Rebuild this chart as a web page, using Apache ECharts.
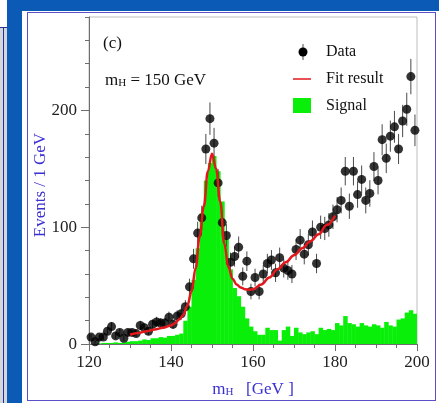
<!DOCTYPE html>
<html>
<head>
<meta charset="utf-8">
<script src="https://cdn.jsdelivr.net/npm/echarts@6/dist/echarts.min.js"></script>
<style>
  html, body { margin: 0; padding: 0; width: 439px; height: 403px; overflow: hidden; background: #0b5ab6; }
  #side { position: absolute; left: 0; top: 0; width: 7px; height: 27px; background: #fff; }
  #sideLow { position: absolute; left: 0; top: 27px; width: 7px; height: 376px; background: #d3d6dd; border-top: 1px solid #24348c; }
  #sideLine { position: absolute; left: 3px; top: 27px; width: 1px; height: 376px; background: #24348c; }
  #panel { position: absolute; left: 22px; top: 11px; width: 417px; height: 392px; background: #fff; }
  #frame { position: absolute; left: 27px; top: 12px; width: 407px; height: 387px; border: 1.5px solid #5b50c9; }
  #chart { position: absolute; left: 0; top: 0; width: 439px; height: 403px; }
</style>
</head>
<body>
<div id="side"></div>
<div id="sideLow"></div>
<div id="sideLine"></div>
<div id="panel"></div>
<div id="frame"></div>
<div id="chart"></div>
<script>
// Histogram binning: 1 GeV bins over the m_H window
const massMin = 120;
const massMax = 200;
const binWidth = 1;

// Observed events per 1 GeV bin (120-121, 121-122, ... 199-200)
const dataCounts = [
  6, 2, 6, 6, 11, 15, 7, 10, 5, 10,
  10, 9, 16, 14, 11, 17, 19, 18, 18, 23,
  17, 24, 26, 32, 49, 73, 95, 108, 167, 193,
  172, 138, 104, 93, 70, 75, 83, 58, 71, 45,
  57, 45, 60, 69, 72, 61, 74, 65, 63, 60,
  81, 89, 77, 85, 96, 69, 100, 99, 102, 109,
  115, 123, 148, 118, 148, 128, 141, 123, 129, 152,
  140, 175, 159, 178, 186, 167, 191, 201, 229, 183
];

// Expected signal per 1 GeV bin
const signalCounts = [
  0, 0, 0.5, 1, 1, 1, 1.5, 1, 1.5, 2,
  2.5, 2.5, 3, 4, 3.5, 5, 5, 6, 5.5, 7,
  7, 8, 9, 20, 32, 55, 82, 112, 140, 155,
  161, 148, 122, 90, 64, 48, 41, 32, 22, 15,
  11, 8, 8, 14, 12, 12, 3, 12, 15, 7,
  14, 10, 8.5, 10, 11, 8.5, 14, 12, 13, 12,
  18, 16, 24, 18, 17, 15, 18, 16, 15, 17,
  16, 14, 19, 16, 15, 21, 22, 27, 29, 26
];

// Fitted model, sampled along m_H
const fitMass  = [130, 132, 134, 136, 138, 140, 141, 142, 143, 144, 145, 146, 147, 148, 149, 150, 151, 152, 153, 154, 155, 156, 157, 158, 159, 160, 162, 164, 166, 168, 170, 172, 174, 176, 178, 180];
const fitValue = [8, 9.5, 11, 12.5, 14, 16, 18, 21, 25, 33, 45, 65, 92, 118, 148, 163, 150, 122, 86, 66, 56, 51, 48.5, 47, 46.5, 47, 51, 57, 64, 70, 76, 82, 88, 94, 102, 110];

// Axis ticks
const yMajorTicks = [0, 100, 200];
const yMax = 280;

const SERIF = '"Liberation Serif", "DejaVu Serif", serif';
const NAME_BLUE = '#3a2fd2';
const AXIS_GREY = '#6e6e6e';

const binLow = i => massMin + i * binWidth;
const dataPoints = dataCounts.map((n, i) => [binLow(i) + binWidth / 2, n]);
const signalBins = signalCounts.map((v, i) => [binLow(i), v]);
const fitPoints = fitMass.map((m, i) => [m, fitValue[i]]);

const chart = echarts.init(document.getElementById('chart'), null, { renderer: 'canvas' });

chart.setOption({
  animation: false,
  backgroundColor: 'transparent',
  grid: {
    left: 89, top: 17, width: 328, height: 331,
    show: true, borderColor: '#bdbdbd', borderWidth: 1, backgroundColor: 'transparent'
  },
  xAxis: [
    {
      type: 'value', min: massMin, max: massMax, interval: 20,
      axisLine: { lineStyle: { color: AXIS_GREY, width: 1 } },
      axisTick: { length: 7, lineStyle: { color: AXIS_GREY } },
      axisLabel: { fontFamily: SERIF, fontSize: 17, color: '#222', margin: 10 },
      splitLine: { show: false },
      name: '{n|m}{s|H}{n|   [GeV ]}',
      nameLocation: 'middle', nameGap: 29,
      nameTextStyle: {
        color: NAME_BLUE, fontFamily: SERIF,
        rich: {
          n: { fontFamily: SERIF, fontSize: 17, color: NAME_BLUE, lineHeight: 20, verticalAlign: 'bottom' },
          s: { fontFamily: SERIF, fontSize: 11, color: NAME_BLUE, lineHeight: 11, padding: [11, 0, 0, 0], verticalAlign: 'bottom' }
        }
      }
    },
    {
      type: 'value', min: massMin, max: massMax, interval: 5, position: 'bottom', offset: 0,
      axisLine: { show: false },
      axisTick: { length: 4, lineStyle: { color: AXIS_GREY } },
      axisLabel: { show: false },
      splitLine: { show: false }
    }
  ],
  yAxis: [
    {
      type: 'value', min: 0, max: yMax, interval: 20,
      axisLine: { show: true, lineStyle: { color: AXIS_GREY, width: 1 } },
      axisTick: { length: 8, customValues: yMajorTicks, lineStyle: { color: AXIS_GREY } },
      axisLabel: { customValues: yMajorTicks, fontFamily: SERIF, fontSize: 17, color: '#222', margin: 12 },
      splitLine: { show: false },
      name: 'Events / 1 GeV',
      nameLocation: 'middle', nameRotate: 90, nameGap: 40,
      nameMoveOverlap: false,
      nameTextStyle: { color: NAME_BLUE, fontFamily: SERIF, fontSize: 17, padding: [0, 9, 0, 0] }
    },
    {
      type: 'value', min: 0, max: yMax, interval: 20, position: 'left', offset: 0,
      axisLine: { show: false },
      axisTick: { length: 4, lineStyle: { color: AXIS_GREY } },
      axisLabel: { show: false },
      splitLine: { show: false }
    }
  ],
  series: [
    {
      name: 'Signal',
      type: 'custom',
      xAxisIndex: 0, yAxisIndex: 0,
      clip: true,
      z: 1,
      renderItem: (params, api) => {
        const lo = api.value(0);
        const v = api.value(1);
        const p0 = api.coord([lo, 0]);
        const p1 = api.coord([lo + binWidth, v]);
        return {
          type: 'rect',
          shape: { x: p0[0], y: p1[1], width: p1[0] - p0[0] + 0.4, height: p0[1] - p1[1] },
          style: { fill: '#0aef0a' }
        };
      },
      data: signalBins
    },
    {
      // Poisson uncertainty on each bin: +/- sqrt(N)
      name: 'DataErrors',
      type: 'custom',
      xAxisIndex: 0, yAxisIndex: 0,
      z: 3,
      renderItem: (params, api) => {
        const x = api.value(0);
        const n = api.value(1);
        const e = Math.sqrt(n);
        const a = api.coord([x, n + e]);
        const b = api.coord([x, Math.max(n - e, 0)]);
        return {
          type: 'line',
          shape: { x1: a[0], y1: a[1], x2: b[0], y2: b[1] },
          style: { stroke: '#4a4a4a', lineWidth: 1 }
        };
      },
      data: dataPoints
    },
    {
      name: 'Data',
      type: 'scatter',
      xAxisIndex: 0, yAxisIndex: 0,
      z: 4,
      symbol: 'circle', symbolSize: 9,
      itemStyle: { color: '#000' },
      data: dataPoints
    },
    {
      name: 'Fit result',
      type: 'line',
      xAxisIndex: 0, yAxisIndex: 0,
      z: 5,
      smooth: 0.4, smoothMonotone: 'x',
      showSymbol: false, symbol: 'none',
      lineStyle: { color: '#e2181c', width: 2.5 },
      data: fitPoints
    }
  ],
  graphic: [
    {
      type: 'text', x: 103, y: 44,
      style: { text: '(c)', font: '17px ' + SERIF, fill: '#111', textVerticalAlign: 'middle' }
    },
    {
      type: 'text', x: 105, y: 79,
      style: {
        text: '{n|m}{s|H}{n| = 150 GeV}',
        textVerticalAlign: 'middle',
        rich: {
          n: { fontFamily: SERIF, fontSize: 17, fill: '#111', lineHeight: 20, verticalAlign: 'bottom' },
          s: { fontFamily: SERIF, fontSize: 11, fill: '#111', lineHeight: 11, padding: [11, 0, 0, 0], verticalAlign: 'bottom' }
        }
      }
    },
    // legend: Data
    { type: 'line', shape: { x1: 303, y1: 44, x2: 303, y2: 60 }, style: { stroke: '#4a4a4a', lineWidth: 1 } },
    { type: 'circle', shape: { cx: 303, cy: 52, r: 4.5 }, style: { fill: '#000' } },
    { type: 'text', x: 326, y: 52, style: { text: 'Data', font: '16px ' + SERIF, fill: '#111', textVerticalAlign: 'middle' } },
    // legend: Fit result
    { type: 'line', shape: { x1: 293, y1: 79, x2: 311, y2: 79 }, style: { stroke: '#e2181c', lineWidth: 1.5 } },
    { type: 'text', x: 326, y: 79, style: { text: 'Fit result', font: '16px ' + SERIF, fill: '#111', textVerticalAlign: 'middle' } },
    // legend: Signal
    { type: 'rect', shape: { x: 293, y: 98, width: 18, height: 15 }, style: { fill: '#0aef0a' } },
    { type: 'text', x: 326, y: 106, style: { text: 'Signal', font: '16px ' + SERIF, fill: '#111', textVerticalAlign: 'middle' } }
  ]
});
</script>
</body>
</html>
